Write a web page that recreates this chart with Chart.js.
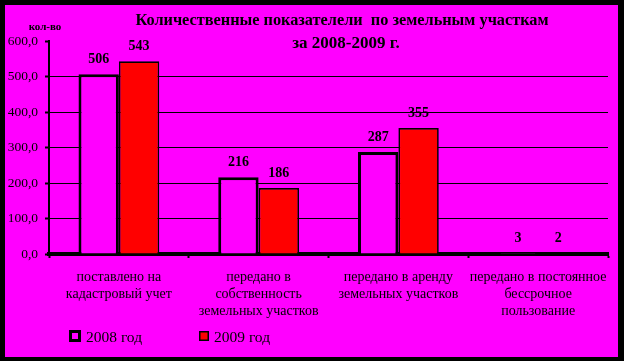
<!DOCTYPE html>
<html><head><meta charset="utf-8">
<script src="https://cdn.jsdelivr.net/npm/chart.js@4/dist/chart.umd.min.js"></script>
<style>html,body{margin:0;padding:0;background:#000;}canvas{display:block}</style>
</head><body>
<canvas id="c" width="624" height="361"></canvas>
<script>
const categories = [
  ["поставлено на", "кадастровый учет"],
  ["передано в", "собственность", "земельных участков"],
  ["передано в аренду", "земельных участков"],
  ["передано в постоянное", "бессрочное", "пользование"]
];
const seriesNames = ["2008 год", "2009 год"];
const values2008 = [506, 216, 287, 3];
const values2009 = [543, 186, 355, 2];
const yTicks = [0, 100, 200, 300, 400, 500, 600];
const titleLines = ["Количественные показателели  по земельным участкам", "за 2008-2009 г."];
const yAxisLabel = "кол-во";

const SERIF = "'Liberation Serif', 'Times New Roman', serif";
const MAGENTA = '#FF00FF';
const RED = '#FF0000';

const decor = {
  id: 'decor',
  beforeDraw(chart) {
    const ctx = chart.ctx;
    ctx.save();
    ctx.fillStyle = '#000';
    ctx.fillRect(0, 0, chart.width, chart.height);
    ctx.fillStyle = MAGENTA;
    ctx.fillRect(5, 5, chart.width - 11, chart.height - 9);
    ctx.restore();
  },
  afterDatasetsDraw(chart) {
    const ctx = chart.ctx;
    ctx.save();
    ctx.fillStyle = '#000';
    ctx.font = "bold 14px " + SERIF;
    ctx.textAlign = 'center';
    ctx.textBaseline = 'middle';
    chart.data.datasets.forEach((ds, di) => {
      chart.getDatasetMeta(di).data.forEach((bar, i) => {
        ctx.fillText(String(ds.data[i]), bar.x, bar.y - 14.5);
      });
    });
    ctx.restore();
  },
  afterDraw(chart) {
    const ctx = chart.ctx;
    ctx.save();
    ctx.fillStyle = '#000';
    ctx.textAlign = 'center';
    ctx.textBaseline = 'alphabetic';
    ctx.font = "bold 16.3px " + SERIF;
    ctx.fillText(titleLines[0], 342, 25);
    ctx.font = "bold 17px " + SERIF;
    ctx.fillText(titleLines[1], 346, 48);
    ctx.font = "bold 11px " + SERIF;
    ctx.fillText(yAxisLabel, 45, 30);
    // legend
    const boxes = [{x: 69, y: 330, s: 12, bw: 3, tx: 86}, {x: 199, y: 331, s: 10, bw: 1.5, tx: 214}];
    ctx.font = "15.5px " + SERIF;
    ctx.textAlign = 'left';
    ctx.textBaseline = 'middle';
    chart.data.datasets.forEach((ds, di) => {
      const b = boxes[di];
      ctx.fillStyle = '#000';
      ctx.fillRect(b.x, b.y, b.s, b.s);
      ctx.fillStyle = ds.backgroundColor;
      ctx.fillRect(b.x + b.bw, b.y + b.bw, b.s - 2 * b.bw, b.s - 2 * b.bw);
      ctx.fillStyle = '#000';
      ctx.fillText(ds.label, b.tx, 338);
    });
    ctx.restore();
  }
};

new Chart(document.getElementById('c'), {
  type: 'bar',
  data: {
    labels: categories,
    datasets: [
      {label: seriesNames[0], data: values2008, backgroundColor: MAGENTA, borderColor: '#000', borderWidth: 3,
       categoryPercentage: 0.578, barPercentage: 1},
      {label: seriesNames[1], data: values2009, backgroundColor: RED, borderColor: '#000', borderWidth: 1.7,
       categoryPercentage: 0.578, barPercentage: 1}
    ]
  },
  options: {
    responsive: false,
    animation: false,
    devicePixelRatio: 1,
    layout: {padding: {left: 0, right: 16, top: 41, bottom: 0}},
    plugins: {legend: {display: false}, title: {display: false}, tooltip: {enabled: false}},
    scales: {
      x: {
        offset: true,
        afterFit(s) { s.height = 107; },
        grid: {offset: true, drawOnChartArea: false, drawTicks: true, tickLength: 4, tickColor: '#000', tickWidth: 2},
        border: {display: true, color: '#000', width: 4},
        ticks: {color: '#000', padding: 11, maxRotation: 0, autoSkip: false,
          font: {family: SERIF, size: 14, lineHeight: 17 / 14}}
      },
      y: {
        min: 0, max: 600,
        afterFit(s) { s.width = 49; },
        afterBuildTicks(s) { s.ticks = yTicks.map(v => ({value: v})); },
        grid: {
          color: (c) => (c.tick && (c.tick.value === 0 || c.tick.value === 600)) ? 'rgba(0,0,0,0)' : '#000',
          lineWidth: 1, drawTicks: true, tickLength: 4, tickColor: '#000', tickWidth: 2
        },
        border: {display: true, color: '#000', width: 2},
        ticks: {color: '#000', padding: 7,
          font: {family: SERIF, size: 13.5},
          callback: (v) => Number(v).toFixed(1).replace('.', ',')}
      }
    }
  },
  plugins: [decor]
});
</script>
</body></html>
